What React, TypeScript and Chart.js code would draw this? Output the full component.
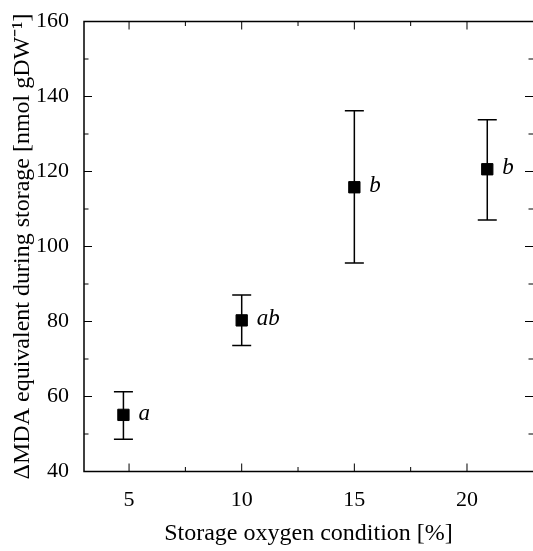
import React, { useEffect, useRef } from 'react';
import { Chart, registerables } from 'chart.js';

Chart.register(...registerables);

const oxygenPct = [4.75, 10, 15, 20.9];
const mdaMean = [55.1, 80.3, 115.8, 120.6];
const mdaUpper = [61.3, 87.1, 136.2, 133.8];
const mdaLower = [48.6, 73.6, 95.6, 107.1];
const groupLetters = ['a', 'ab', 'b', 'b'];
const xMajorTicks = [5, 10, 15, 20];
const xMinorTicks = [7.5, 12.5, 17.5];
const yMajorTicks = [40, 60, 80, 100, 120, 140, 160];
const yMinorTicks = [50, 70, 90, 110, 130, 150];
const xTitle = 'Storage oxygen condition [%]';
const yTitle = 'ΔMDA equivalent during storage [nmol gDW⁻¹]';

const FONT = '"Liberation Serif", "Times New Roman", Times, serif';

const framePlugin = {
  id: 'frameTicks',
  afterDraw(chart: any) {
    const { ctx, chartArea } = chart;
    const { left, right, top, bottom } = chartArea;
    const xs = chart.scales.x;
    const ys = chart.scales.y;
    ctx.save();
    ctx.strokeStyle = '#000';
    ctx.lineWidth = 1.5;
    ctx.beginPath();
    ctx.moveTo(right, top);
    ctx.lineTo(left, top);
    ctx.lineTo(left, bottom);
    ctx.lineTo(right, bottom);
    ctx.stroke();
    ctx.lineWidth = 1;
    ctx.beginPath();
    const major = 8;
    const minor = 4.5;
    const xTick = (v: number, len: number) => {
      const px = xs.getPixelForValue(v);
      ctx.moveTo(px, bottom);
      ctx.lineTo(px, bottom - len);
      ctx.moveTo(px, top);
      ctx.lineTo(px, top + len);
    };
    const yTick = (v: number, len: number) => {
      const py = ys.getPixelForValue(v);
      ctx.moveTo(left, py);
      ctx.lineTo(left + len, py);
      ctx.moveTo(right, py);
      ctx.lineTo(right - len, py);
    };
    xMajorTicks.forEach((v) => xTick(v, major));
    xMinorTicks.forEach((v) => xTick(v, minor));
    yMajorTicks.forEach((v) => yTick(v, major));
    yMinorTicks.forEach((v) => yTick(v, minor));
    ctx.stroke();
    ctx.restore();
  },
};

const errorBarPlugin = {
  id: 'errorBarsLetters',
  beforeDatasetsDraw(chart: any) {
    const { ctx } = chart;
    const xs = chart.scales.x;
    const ys = chart.scales.y;
    ctx.save();
    ctx.strokeStyle = '#000';
    ctx.lineWidth = 1.5;
    oxygenPct.forEach((v, i) => {
      const px = xs.getPixelForValue(v);
      const yt = ys.getPixelForValue(mdaUpper[i]);
      const yb = ys.getPixelForValue(mdaLower[i]);
      const cap = 9.5;
      ctx.beginPath();
      ctx.moveTo(px, yt);
      ctx.lineTo(px, yb);
      ctx.moveTo(px - cap, yt);
      ctx.lineTo(px + cap, yt);
      ctx.moveTo(px - cap, yb);
      ctx.lineTo(px + cap, yb);
      ctx.stroke();
    });
    ctx.restore();
  },
  afterDatasetsDraw(chart: any) {
    const { ctx } = chart;
    const xs = chart.scales.x;
    const ys = chart.scales.y;
    ctx.save();
    ctx.fillStyle = '#000';
    ctx.font = `italic 23px ${FONT}`;
    ctx.textAlign = 'left';
    ctx.textBaseline = 'alphabetic';
    oxygenPct.forEach((v, i) => {
      const px = xs.getPixelForValue(v);
      const py = ys.getPixelForValue(mdaMean[i]);
      ctx.fillText(groupLetters[i], px + 15, py + 5);
    });
    ctx.restore();
  },
};

export default function App() {
  const ref = useRef<HTMLCanvasElement>(null);
  useEffect(() => {
    const canvas = ref.current;
    if (!canvas) return;
    const chart = new Chart(canvas, {
      type: 'scatter',
      data: {
        datasets: [
          {
            data: oxygenPct.map((x, i) => ({ x, y: mdaMean[i] })),
            pointStyle: 'rect',
            pointRadius: 8,
            pointHoverRadius: 8,
            backgroundColor: '#000',
            borderColor: '#000',
            borderWidth: 1,
            showLine: false,
          },
        ],
      },
      options: {
        animation: false,
        responsive: false,
        devicePixelRatio: 1,
        events: [],
        layout: { autoPadding: false, padding: { top: 21.5, right: 0, bottom: 0, left: 0 } },
        plugins: { legend: { display: false }, tooltip: { enabled: false } },
        scales: {
          x: {
            type: 'linear',
            position: 'bottom',
            min: 3,
            max: 22.93,
            afterBuildTicks: (s: any) => {
              s.ticks = xMajorTicks.map((value) => ({ value }));
            },
            afterFit: (s: any) => {
              s.height = 79.5;
              s.paddingLeft = 0;
              s.paddingRight = 0;
            },
            grid: { display: false },
            border: { display: false },
            ticks: { color: '#000', font: { family: FONT, size: 22 }, padding: 7.8, maxRotation: 0 },
            title: {
              display: true,
              text: xTitle,
              color: '#000',
              font: { family: FONT, size: 24 },
              padding: { top: 0, bottom: 2.6 },
            },
          },
          y: {
            type: 'linear',
            position: 'left',
            min: 40,
            max: 160,
            afterBuildTicks: (s: any) => {
              s.ticks = yMajorTicks.map((value) => ({ value }));
            },
            afterFit: (s: any) => {
              s.width = 84;
              s.paddingTop = 0;
              s.paddingBottom = 0;
            },
            grid: { display: false },
            border: { display: false },
            ticks: { color: '#000', font: { family: FONT, size: 22 }, padding: 7 },
            title: {
              display: true,
              text: yTitle,
              color: '#000',
              font: { family: FONT, size: 24 },
              padding: { top: 8, bottom: 0 },
            },
          },
        },
      },
      plugins: [framePlugin, errorBarPlugin],
    } as any);
    return () => chart.destroy();
  }, []);
  return (
    <div style={{ position: 'fixed', left: 0, top: 0, width: 533, height: 551, background: '#fff' }}>
      <canvas ref={ref} width={533} height={551} style={{ display: 'block', width: 533, height: 551 }} />
    </div>
  );
}
